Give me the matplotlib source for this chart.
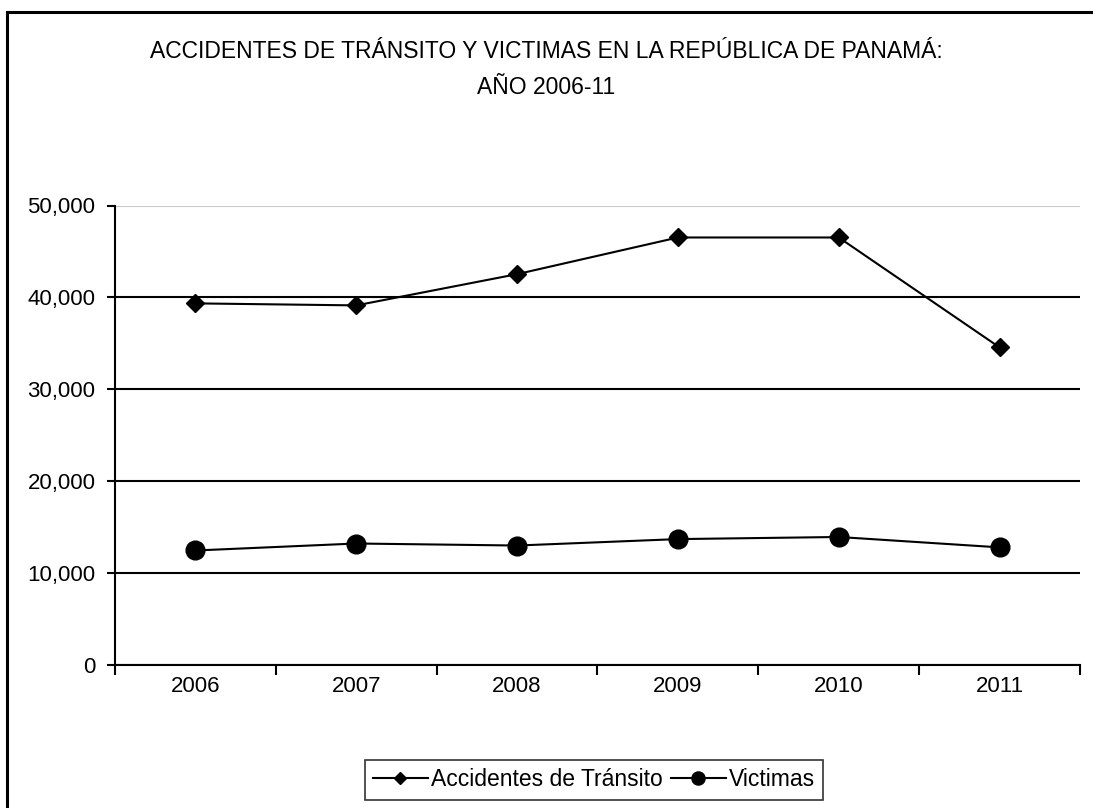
import matplotlib
matplotlib.use("Agg")
import matplotlib.pyplot as plt
from matplotlib.patches import Rectangle
from matplotlib.ticker import FuncFormatter, FixedLocator

years = ["2006", "2007", "2008", "2009", "2010", "2011"]
accidentes = [39350, 39130, 42530, 46520, 46520, 34560]
victimas = [12460, 13220, 13000, 13700, 13930, 12800]
yticks = [0, 10000, 20000, 30000, 40000, 50000]
title_1 = "ACCIDENTES DE TRÁNSITO Y VICTIMAS EN LA REPÚBLICA DE PANAMÁ:"
title_2 = "AÑO 2006-11"

plt.rcParams['font.family'] = ['Liberation Sans', 'DejaVu Sans']

W, H = 1093, 808
fig = plt.figure(figsize=(W / 100, H / 100), dpi=100)
fig.patch.set_facecolor('white')

# outer chart frame (cropped on right and bottom)
fig.patches.append(Rectangle((7 / W, -0.05), 1.2, (H - 11.5) / H + 0.05,
                             transform=fig.transFigure, fill=False,
                             edgecolor='black', linewidth=2.2, zorder=0))

ax = fig.add_axes([115 / W, 1 - 665 / H, (1080 - 115) / W, (665 - 205.5) / H])
x = list(range(len(years)))

ax.plot(x, accidentes, color='black', lw=1.5, marker='D', markersize=9,
        markerfacecolor='black', markeredgecolor='black',
        label='Accidentes de Tránsito', zorder=4, clip_on=False)
ax.plot(x, victimas, color='black', lw=1.5, marker='o', markersize=13.5,
        markerfacecolor='black', markeredgecolor='black',
        label='Victimas', zorder=4, clip_on=False)

ax.set_xlim(-0.5, len(years) - 0.5)
ax.set_ylim(0, 50000)
ax.set_yticks(yticks)
ax.yaxis.set_major_formatter(FuncFormatter(lambda v, p: f"{int(v):,}"))

ax.xaxis.set_major_locator(FixedLocator([i - 0.5 for i in range(len(years) + 1)]))
ax.xaxis.set_major_formatter(FuncFormatter(lambda v, p: ""))
ax.xaxis.set_minor_locator(FixedLocator(x))
ax.set_xticklabels(years, minor=True)

ax.tick_params(axis='x', which='major', direction='out', length=7.5, width=1.5, color='black')
ax.tick_params(axis='x', which='minor', length=0, pad=8, labelsize=16)
ax.tick_params(axis='y', direction='out', length=5.5, width=1.5, pad=8.5, labelsize=16)

ax.yaxis.grid(True, color='black', lw=1.5)
ax.set_axisbelow(True)
gl = ax.get_ygridlines()
gl[-1].set_color('#c8c8c8')

for s in ['top', 'right']:
    ax.spines[s].set_visible(False)
ax.spines['left'].set_linewidth(1.5)
ax.spines['bottom'].set_linewidth(1.5)

fig.text(546 / W, 1 - 52 / H, title_1, ha='center', va='center', fontsize=16.5)
fig.text(546 / W, 1 - 88 / H, title_2, ha='center', va='center', fontsize=16.5)

leg = fig.legend(loc='center', bbox_to_anchor=(594 / W, 1 - 780 / H),
                 ncol=2, frameon=True, fancybox=False, fontsize=16.5,
                 handlelength=2.4, handletextpad=0.15, columnspacing=0.35,
                 borderpad=0.35, borderaxespad=0, markerscale=0.7)
leg.get_frame().set_edgecolor('black')
leg.get_frame().set_linewidth(1.2)

fig.savefig('out.png', dpi=100, facecolor='white')
